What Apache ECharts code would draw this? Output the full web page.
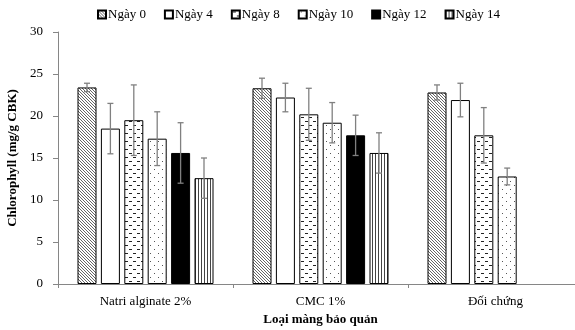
<!DOCTYPE html>
<html>
<head>
<meta charset="utf-8">
<script src="https://cdn.jsdelivr.net/npm/echarts@6/dist/echarts.min.js"></script>
<style>
  html, body { margin: 0; padding: 0; background: #fff; }
  #chart { width: 575px; height: 330px; }
</style>
</head>
<body>
<div id="chart"></div>
<script>
// data
var categories = ['Natri alginate 2%', 'CMC 1%', 'Đối chứng']
var seriesNames = ['Ngày 0', 'Ngày 4', 'Ngày 8', 'Ngày 10', 'Ngày 12', 'Ngày 14']
var day0 = [23.4, 23.3, 22.8]
var day4 = [18.5, 22.2, 21.9]
var day8 = [19.5, 20.2, 17.7]
var day10 = [17.3, 19.2, 12.8]
var day12 = [15.6, 17.7, null]
var day14 = [12.6, 15.6, null]
var day0Err = [0.5, 1.2, 0.9]
var day4Err = [3.0, 1.7, 2.0]
var day8Err = [4.2, 3.1, 3.3]
var day10Err = [3.2, 2.4, 1.0]
var day12Err = [3.6, 2.4, null]
var day14Err = [2.4, 2.4, null]
var yTicks = [0, 5, 10, 15, 20, 25, 30]

var values = [day0, day4, day8, day10, day12, day14]
var errors = [day0Err, day4Err, day8Err, day10Err, day12Err, day14Err]

var barW = 19
var barGapPx = 4.4
var font = '"Liberation Serif", "Times New Roman", serif'

// hatch fills drawn on small canvases
function makePattern(w, h, draw) {
  var c = document.createElement('canvas')
  c.width = w
  c.height = h
  var ctx = c.getContext('2d')
  ctx.fillStyle = '#fff'
  ctx.fillRect(0, 0, w, h)
  draw(ctx)
  return { image: c, repeat: 'repeat' }
}
var diagFill = makePattern(3, 3, function(ctx) {
  ctx.fillStyle = '#666'
  for (var i = 0; i < 3; i++) ctx.fillRect(i, i, 1, 1)
})
var dashFill = makePattern(8, 8, function(ctx) {
  ctx.fillStyle = '#222'
  ctx.fillRect(1, 1, 3, 1)
  ctx.fillRect(5, 5, 3, 1)
})
var dotFill = makePattern(8, 8, function(ctx) {
  ctx.fillStyle = '#555'
  ctx.fillRect(2, 1, 1, 1)
  ctx.fillRect(6, 5, 1, 1)
})
var vertFill = makePattern(3, 2, function(ctx) {
  ctx.fillStyle = '#444'
  ctx.fillRect(0, 0, 1, 2)
})
var fills = [diagFill, '#fff', dashFill, dotFill, '#000', vertFill]

var chart = echarts.init(document.getElementById('chart'))

var series = seriesNames.map(function(name, i) {
  return {
    name: name,
    type: 'bar',
    barWidth: barW,
    barGap: (barGapPx / barW * 100) + '%',
    itemStyle: {
      color: fills[i],
      borderColor: '#000',
      borderWidth: 1
    },
    data: values[i]
  }
})

var errData = []
values.forEach(function(arr, s) {
  arr.forEach(function(v, c) {
    if (v != null) errData.push([c, v, errors[s][c], s])
  })
})

series.push({
  type: 'custom',
  name: 'err',
  z: 5,
  silent: true,
  encode: { x: 0, y: 1 },
  data: errData,
  renderItem: function(params, api) {
    var cat = api.value(0)
    var v = api.value(1)
    var e = api.value(2)
    var s = api.value(3)
    var off = (s - 2.5) * (barW + barGapPx)
    var top = api.coord([cat, v + e])
    var bot = api.coord([cat, v - e])
    var x = top[0] + off
    var cap = 3
    var st = { stroke: '#808080', lineWidth: 1.3 }
    return {
      type: 'group',
      children: [
        { type: 'line', shape: { x1: x, y1: top[1], x2: x, y2: bot[1] }, style: st },
        { type: 'line', shape: { x1: x - cap, y1: top[1], x2: x + cap, y2: top[1] }, style: st },
        { type: 'line', shape: { x1: x - cap, y1: bot[1], x2: x + cap, y2: bot[1] }, style: st }
      ]
    }
  }
})

var option = {
  animation: false,
  textStyle: { fontFamily: font },
  legend: {
    data: seriesNames,
    icon: 'rect',
    top: 3,
    left: 92,
    itemWidth: 8,
    itemHeight: 8,
    itemGap: 18,
    textStyle: { fontFamily: font, fontSize: 13, color: '#000', padding: [0, 0, 0, -3] }
  },
  grid: { left: 58, width: 525, top: 32, bottom: 46, outerBoundsMode: 'none', containLabel: false },
  xAxis: {
    type: 'category',
    data: categories,
    name: 'Loại màng bảo quản',
    nameLocation: 'middle',
    nameGap: 29,
    nameTextStyle: { fontFamily: font, fontSize: 13, fontWeight: 'bold', color: '#000' },
    axisLine: { lineStyle: { color: '#868686', width: 1 } },
    axisTick: { show: true, length: 4, lineStyle: { color: '#868686' } },
    axisLabel: { fontFamily: font, fontSize: 13, color: '#000', margin: 11 }
  },
  yAxis: {
    type: 'value',
    min: yTicks[0],
    max: yTicks[yTicks.length - 1],
    interval: 5,
    name: 'Chlorophyll (mg/g CBK)',
    nameLocation: 'middle',
    nameGap: 34,
    nameTextStyle: { fontFamily: font, fontSize: 13, fontWeight: 'bold', color: '#000' },
    axisLine: { show: true, lineStyle: { color: '#868686', width: 1 } },
    axisTick: { show: true, length: 5, lineStyle: { color: '#868686' } },
    splitLine: { show: false },
    axisLabel: { fontFamily: font, fontSize: 13, color: '#000', margin: 15 }
  },
  series: series
}

chart.setOption(option)
</script>
</body>
</html>
